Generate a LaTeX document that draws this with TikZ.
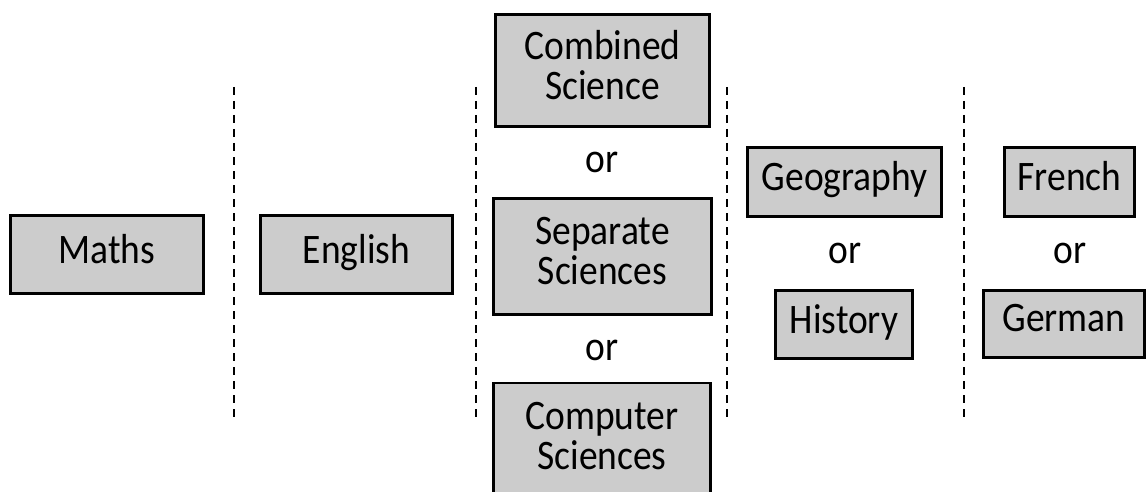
\documentclass[tikz,border=0pt]{standalone}
\usepackage{fontspec}
\setmainfont{Carlito}
\usepackage{graphicx}
\definecolor{boxfill}{RGB}{204,204,204}
\newcommand{\vtext}[1]{\scalebox{1}[1.12]{\begin{tabular}{@{}c@{}}#1\end{tabular}}}
\begin{document}
\begin{tikzpicture}[x=1pt,y=-1pt,
  subj/.style={draw=black, line width=2.6pt, fill=boxfill, inner sep=0pt, rectangle,
    font=\fontsize{37.5}{34}\selectfont},
  ortext/.style={inner sep=0pt, anchor=base, font=\fontsize{37.5}{34}\selectfont},
  divider/.style={draw=black, line width=1.8pt, dash pattern=on 8pt off 6pt}]
\useasboundingbox (0,0) rectangle (1148,492);
\clip (0,0) rectangle (1148,492);
\fill[white] (0,0) rectangle (1148,492);
% dividers
\coordinate (d1t) at (234,87);  \coordinate (d1b) at (234,417);
\coordinate (d2t) at (476,87);  \coordinate (d2b) at (476,417);
\coordinate (d3t) at (727,87);  \coordinate (d3b) at (727,417);
\coordinate (d4t) at (964,87);  \coordinate (d4b) at (964,417);
\draw[divider] (d1t) -- (d1b);
\draw[divider] (d2t) -- (d2b);
\draw[divider] (d3t) -- (d3b);
\draw[divider] (d4t) -- (d4b);
% boxes
\node[subj, minimum width=193pt, minimum height=78pt] (maths) at (107,254.5) {\vtext{Maths}};
\node[subj, minimum width=192pt, minimum height=78pt] (english) at (356.5,254.5) {\vtext{English}};
\node[subj, minimum width=214pt, minimum height=112pt] (combined) at (602.5,70.5) {\vtext{Combined\\Science}};
\node[subj, minimum width=218pt, minimum height=116pt] (separate) at (602.5,256.5) {\vtext{Separate\\Sciences}};
\node[subj, minimum width=217pt, minimum height=117pt] (computer) at (602,441.5) {\vtext{Computer\\Sciences}};
\node[subj, minimum width=194pt, minimum height=69pt] (geo) at (844.5,182) {\vtext{Geography}};
\node[subj, minimum width=137pt, minimum height=68pt] (his) at (844,324.5) {\vtext{History}};
\node[subj, minimum width=130pt, minimum height=69pt] (fre) at (1069.5,182) {\vtext{French}};
\node[subj, minimum width=161pt, minimum height=67pt] (ger) at (1064,324) {\vtext{German}};
% or labels
\node[ortext] (or1) at (602,172) {\scalebox{1}[1.12]{or}};
\node[ortext] (or2) at (602,360) {\scalebox{1}[1.12]{or}};
\node[ortext] (or3) at (845,263) {\scalebox{1}[1.12]{or}};
\node[ortext] (or4) at (1070,263) {\scalebox{1}[1.12]{or}};
\end{tikzpicture}
\end{document}
